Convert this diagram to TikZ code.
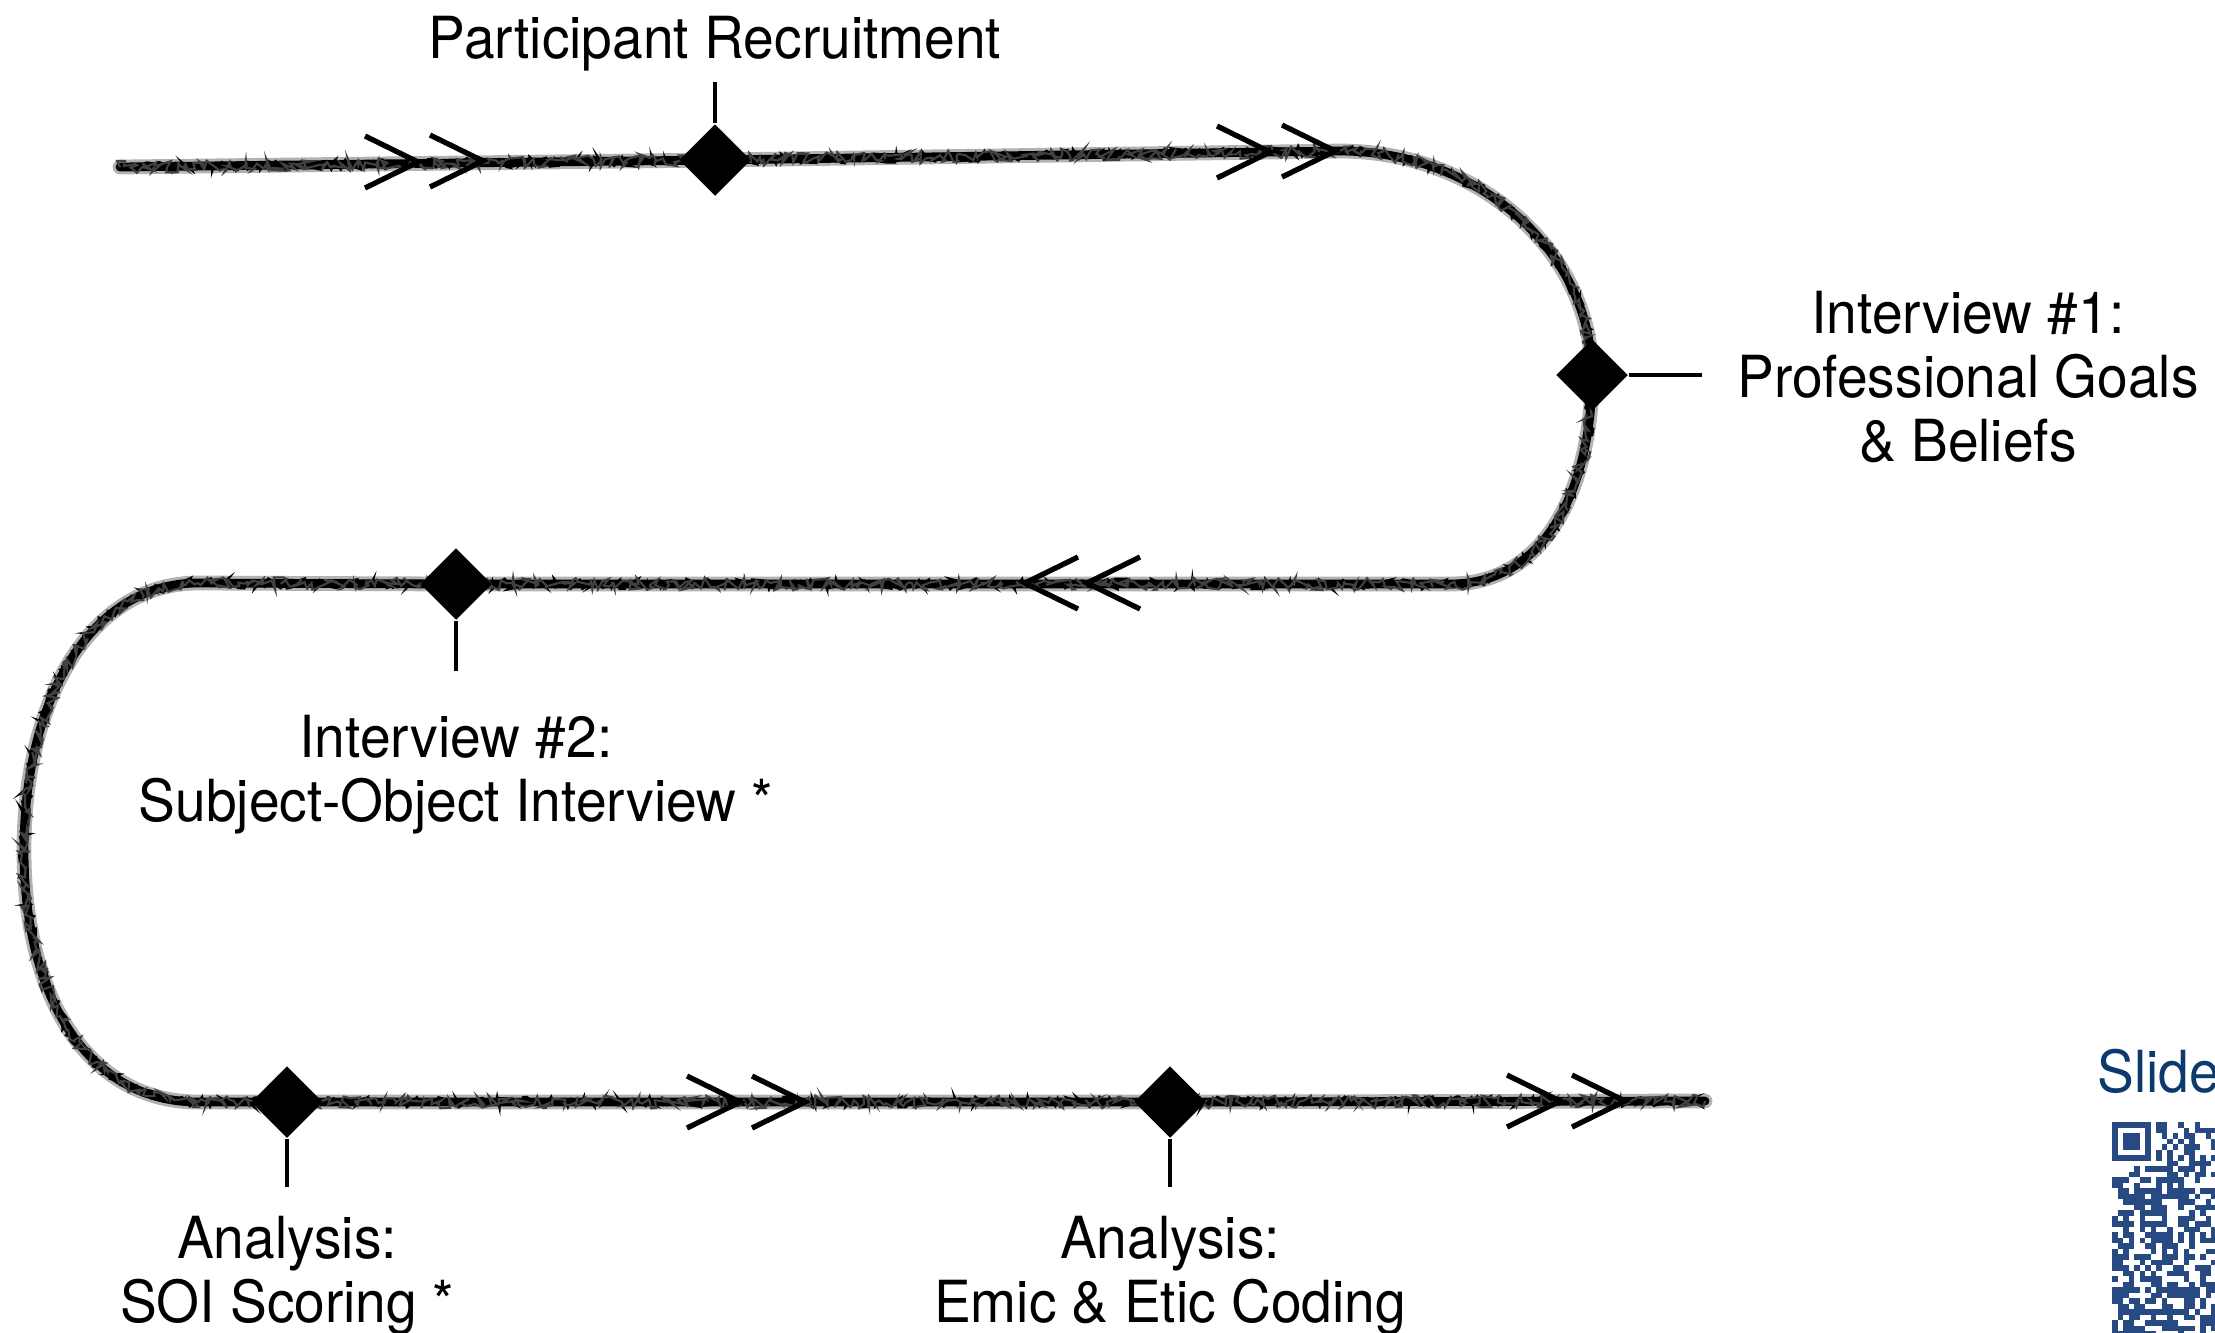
\documentclass[tikz,border=0pt]{standalone}
\usepackage{fontspec}
\setmainfont[FakeStretch=0.95]{TeX Gyre Heros}
\usetikzlibrary{shapes.geometric,decorations.pathmorphing}
\definecolor{qrblue}{HTML}{284A82}
\definecolor{slideblue}{HTML}{0C3A6C}

\tikzset{
  halo/.style={line width=4.2pt, draw=black!30, line cap=round, line join=round},
  track/.style={line width=2.5pt, draw=black, line cap=round, line join=round},
  grain/.style={line width=0.7pt, draw=black, decorate,
    decoration={random steps, segment length=1.0pt, amplitude=1.5pt}},
  chev/.style={line width=1.5pt, line join=miter},
  stem/.style={line width=1.1pt},
  diam/.style={diamond, fill=black, inner sep=0pt, minimum width=0.72cm, minimum height=0.72cm},
  lbl/.style={font=\fontsize{16.5}{18.2}\selectfont, align=center, inner sep=0pt},
  chevR/.pic={\draw[chev] (-53,-26) -- (0,0) -- (-53,26);},
  chevL/.pic={\draw[chev] (53,-26) -- (0,0) -- (53,26);},
}

\begin{document}
\begin{tikzpicture}[x=0.01cm, y=-0.01cm]
\useasboundingbox (0,0) rectangle (2215,1332);
\clip (0,0) rectangle (2215,1332);

% stations and turning points of the track
\coordinate (start)  at (120,167);
\coordinate (p1)     at (715,160);
\coordinate (r1)     at (1340,151);
\coordinate (p2)     at (1592,375);
\coordinate (r2)     at (1450,584);
\coordinate (p3)     at (456,584);
\coordinate (l1)     at (198,583);
\coordinate (lmid)   at (24,850);
\coordinate (l3)     at (198,1102);
\coordinate (p4)     at (287,1102);
\coordinate (p5)     at (1170,1102);
\coordinate (finish) at (1705,1101);

\def\trackpath{(start) -- (p1) -- (r1)
  .. controls (1479,151) and (1592,252) .. (p2)
  .. controls (1592,480) and (1550,584) .. (r2)
  -- (p3) -- (l1)
  .. controls (90,583) and (24,700) .. (lmid)
  .. controls (24,1000) and (90,1102) .. (l3)
  -- (p4) -- (p5) -- (finish)}

% pencil-like winding track
\pgfmathsetseed{11}
\draw[halo] \trackpath;
\draw[track] \trackpath;
\draw[grain] \trackpath;
\draw[grain, draw=black!75, line width=0.6pt,
  decoration={random steps, segment length=0.8pt, amplitude=1.8pt}] \trackpath;

% direction marks
\pic at (418,162) {chevR};
\pic at (483,161) {chevR};
\pic at (1270,152) {chevR};
\pic at (1335,151) {chevR};
\pic at (1025,583) {chevL};
\pic at (1087,583) {chevL};
\pic at (740,1102) {chevR};
\pic at (805,1102) {chevR};
\pic at (1560,1101) {chevR};
\pic at (1625,1101) {chevR};

% milestones
\node[diam] (d1) at (p1) {};
\node[diam] (d2) at (p2) {};
\node[diam] (d3) at (p3) {};
\node[diam] (d4) at (p4) {};
\node[diam] (d5) at (p5) {};

\coordinate (s1) at (715,82);
\coordinate (s2) at (1702,375);
\coordinate (s3) at (456,671);
\coordinate (s4) at (287,1187);
\coordinate (s5) at (1170,1187);
\draw[stem] (d1) -- (s1);
\draw[stem] (d2) -- (s2);
\draw[stem] (d3) -- (s3);
\draw[stem] (d4) -- (s4);
\draw[stem] (d5) -- (s5);

% milestone labels
\node[lbl, anchor=north] (t1) at (715,15) {Participant Recruitment};
\node[lbl, anchor=north] (t2) at (1968,290) {Interview \#1:\\Professional Goals\\\& Beliefs};
\node[lbl, anchor=north] (t3) at (456,714) {Interview \#2:\\Subject-Object Interview *};
\node[lbl, anchor=north] (t4) at (287,1215) {Analysis:\\SOI Scoring *};
\node[lbl, anchor=north] (t5) at (1170,1215) {Analysis:\\Emic \& Etic Coding};
\node[lbl, anchor=base west, text=slideblue] (t6) at (2097,1092) {Slide};

% QR code for the slides
\fill[qrblue] (2112,1122) rectangle ++(38.5,38.5);
\fill[white] (2117.5,1127.5) rectangle ++(27.5,27.5);
\fill[qrblue] (2123,1133) rectangle ++(16.5,16.5);
\foreach \k in {8,10,...,38} {
  \fill[qrblue] ({2112+5.5*\k},1155) rectangle ++(5.6,5.6);
  \fill[qrblue] (2145,{1122+5.5*\k}) rectangle ++(5.6,5.6);
}
\pgfmathsetseed{20}
\foreach \r in {0,...,38}{
  \foreach \c in {0,...,19}{
    \pgfmathtruncatemacro{\bit}{rnd<0.52 ? 1 : 0}
    \pgfmathtruncatemacro{\reserved}{((\r<8 && \c<8) || \r==6 || \c==6) ? 1 : 0}
    \ifnum\reserved=0\relax\ifnum\bit=1\relax
      \fill[qrblue] ({2112+5.5*\c},{1122+5.5*\r}) rectangle ++(5.6,5.6);
    \fi\fi
  }
}
\end{tikzpicture}
\end{document}
